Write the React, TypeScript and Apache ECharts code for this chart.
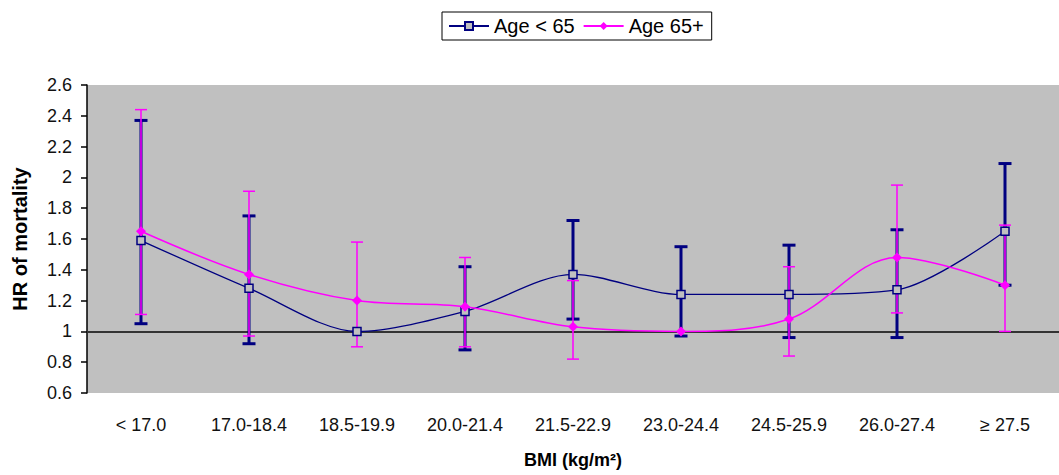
import React, { useEffect, useRef } from "react";
import * as echarts from "echarts";

const categories = ["< 17.0", "17.0-18.4", "18.5-19.9", "20.0-21.4", "21.5-22.9", "23.0-24.4", "24.5-25.9", "26.0-27.4", "≥ 27.5"];
const youngHR = [1.59, 1.28, 1.0, 1.13, 1.37, 1.24, 1.24, 1.27, 1.65];
const youngLow = [1.05, 0.92, null, 0.88, 1.08, 0.97, 0.96, 0.96, 1.3];
const youngHigh = [2.37, 1.75, null, 1.42, 1.72, 1.55, 1.56, 1.66, 2.09];
const oldHR = [1.65, 1.37, 1.2, 1.16, 1.03, 1.0, 1.08, 1.48, 1.3];
const oldLow = [1.11, 0.97, 0.9, 0.9, 0.82, null, 0.84, 1.12, 1.0];
const oldHigh = [2.44, 1.91, 1.58, 1.48, 1.33, null, 1.42, 1.95, 1.69];
const yTicks = { min: 0.6, max: 2.6, interval: 0.2 };

const NAVY = "#000080";
const PINK = "#FF00FF";

function errData(low: (number | null)[], high: (number | null)[]) {
  const out: number[][] = [];
  low.forEach((l, i) => {
    const h = high[i];
    if (l != null && h != null) out.push([i, l, h]);
  });
  return out;
}

function errRender(color: string, width: number, cap: number) {
  return (params: any, api: any) => {
    const x = api.value(0);
    const lo = api.coord([x, api.value(1)]);
    const hi = api.coord([x, api.value(2)]);
    const style = { stroke: color, lineWidth: width };
    const h = cap / 2;
    return {
      type: "group",
      children: [
        { type: "line", shape: { x1: lo[0], y1: lo[1], x2: hi[0], y2: hi[1] }, style },
        { type: "line", shape: { x1: lo[0] - h, y1: lo[1], x2: lo[0] + h, y2: lo[1] }, style },
        { type: "line", shape: { x1: hi[0] - h, y1: hi[1], x2: hi[0] + h, y2: hi[1] }, style },
      ],
    };
  };
}

export default function App() {
  const ref = useRef<HTMLDivElement>(null);
  useEffect(() => {
    const chart = echarts.init(ref.current!, null, { renderer: "svg" });
    chart.setOption({
      animation: false,
      backgroundColor: "#ffffff",
      legend: {
        left: 442,
        top: 12,
        borderColor: "#000",
        borderWidth: 1,
        padding: [4, 8, 4, 6],
        itemWidth: 40,
        itemHeight: 10,
        itemGap: 8,
        textStyle: { fontFamily: "Liberation Sans", fontSize: 20, color: "#000" },
        data: ["Age < 65", "Age 65+"],
      },
      grid: {
        left: 87,
        top: 85,
        width: 986,
        height: 308,
        show: true,
        backgroundColor: "#C0C0C0",
        borderWidth: 0,
      },
      xAxis: {
        type: "category",
        data: categories,
        boundaryGap: true,
        axisLine: { show: false },
        axisTick: { show: false },
        axisLabel: {
          interval: 0,
          margin: 23,
          fontFamily: "Liberation Sans",
          fontSize: 18,
          color: "#111",
        },
        name: "BMI (kg/m²)",
        nameLocation: "middle",
        nameGap: 58,
        nameTextStyle: {
          fontFamily: "Liberation Sans",
          fontWeight: "bold",
          fontSize: 18,
          color: "#000",
        },
      },
      yAxis: {
        type: "value",
        min: yTicks.min,
        max: yTicks.max,
        interval: yTicks.interval,
        splitLine: { show: false },
        axisLine: { show: true, lineStyle: { color: "#000", width: 1.5 } },
        axisTick: { show: true, length: 6, lineStyle: { color: "#000", width: 1.5 } },
        axisLabel: {
          margin: 15,
          fontFamily: "Liberation Sans",
          fontSize: 18,
          color: "#111",
          formatter: (v: number) => String(+v.toFixed(1)),
        },
        name: "HR of mortality",
        nameLocation: "middle",
        nameGap: 57,
        nameTextStyle: { fontFamily: "Liberation Sans", fontWeight: "bold", fontSize: 20, color: "#000" },
      },
      series: [
        {
          type: "custom",
          name: "errYoung",
          renderItem: errRender(NAVY, 3, 13),
          data: errData(youngLow, youngHigh),
          z: 2,
          silent: true,
        },
        {
          type: "custom",
          name: "errOld",
          renderItem: errRender(PINK, 1.5, 12),
          data: errData(oldLow, oldHigh),
          z: 3,
          silent: true,
        },
        {
          type: "line",
          name: "Age < 65",
          data: youngHR,
          smooth: 0.3,
          symbol: "rect",
          symbolSize: 8,
          lineStyle: { color: NAVY, width: 1.3 },
          itemStyle: { color: "#C0C0C0", borderColor: NAVY, borderWidth: 1.5 },
          z: 4,
          markLine: {
            silent: true,
            symbol: ["none", "none"],
            label: { show: false },
            lineStyle: { color: "#333", width: 2, type: "solid" },
            data: [{ yAxis: 1 }],
            z: 1,
          },
        },
        {
          type: "line",
          name: "Age 65+",
          data: oldHR,
          smooth: 0.35,
          symbol: "diamond",
          symbolSize: 10,
          lineStyle: { color: PINK, width: 1.5 },
          itemStyle: { color: PINK },
          z: 5,
        },
      ],
    });
    return () => chart.dispose();
  }, []);
  return <div ref={ref} style={{ position: "absolute", left: 0, top: 0, width: 1059, height: 475 }} />;
}
